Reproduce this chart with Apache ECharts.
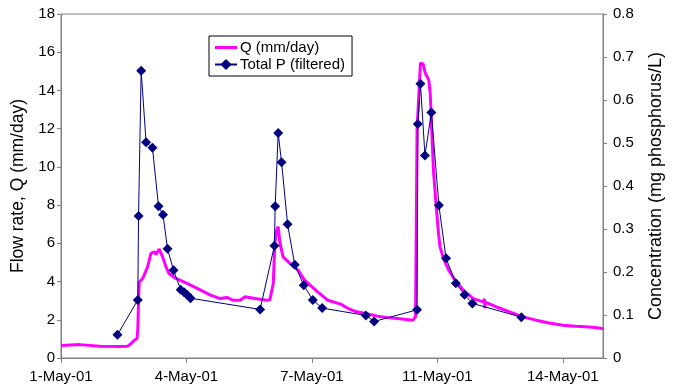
<!DOCTYPE html>
<html>
<head>
<meta charset="utf-8">
<script src="https://cdn.jsdelivr.net/npm/echarts@6/dist/echarts.min.js"></script>
<style>
html,body{margin:0;padding:0;background:#fff;}
#chart{width:673px;height:389px;}
</style>
</head>
<body>
<div id="chart"></div>
<script>
// Days since 1-May-01 00:00
const qDays = [0.00,0.50,1.03,1.55,1.77,1.86,1.95,2.02,2.04,2.07,2.08,2.17,2.30,2.39,2.48,2.52,2.61,2.70,2.79,2.87,3.05,3.35,3.71,3.97,4.23,4.41,4.58,4.76,4.89,5.16,5.46,5.55,5.64,5.68,5.73,5.77,5.82,5.90,6.08,6.30,6.47,6.82,7.09,7.43,7.62,7.80,8.09,8.41,8.75,9.12,9.35,9.42,9.46,9.50,9.55,9.62,9.68,9.77,9.81,9.86,9.90,9.97,10.03,10.07,10.16,10.30,10.47,10.69,10.95,11.22,11.25,11.26,11.27,11.57,11.92,12.27,12.62,12.97,13.33,13.68,14.03,14.18,14.38,14.40];
const qValues = [0.65,0.70,0.62,0.60,0.62,0.75,0.93,1.02,1.50,3.60,3.98,4.16,4.77,5.47,5.56,5.42,5.70,5.29,4.77,4.42,4.16,3.90,3.55,3.29,3.11,3.17,3.02,3.02,3.20,3.11,3.02,3.05,3.90,6.00,6.69,6.87,6.00,5.29,4.95,4.60,4.07,3.46,3.02,2.82,2.60,2.45,2.33,2.19,2.10,2.03,1.98,2.15,12.0,13.5,15.43,15.39,14.90,14.55,13.86,11.41,9.66,7.91,6.52,5.82,5.21,4.60,4.07,3.55,3.11,2.94,3.10,2.60,2.92,2.67,2.41,2.15,1.98,1.83,1.71,1.66,1.62,1.60,1.54,1.49];
const pDays = [1.50,2.04,2.06,2.13,2.26,2.43,2.59,2.71,2.83,2.99,3.18,3.27,3.35,3.44,5.29,5.67,5.69,5.77,5.86,6.02,6.21,6.45,6.69,6.94,8.10,8.32,9.46,9.48,9.55,9.67,9.84,10.04,10.23,10.49,10.72,10.93,12.23];
const pValues = [0.054,0.135,0.330,0.668,0.502,0.489,0.353,0.333,0.254,0.204,0.159,0.153,0.147,0.139,0.113,0.261,0.353,0.523,0.455,0.311,0.217,0.169,0.135,0.116,0.099,0.085,0.112,0.544,0.638,0.471,0.571,0.355,0.232,0.174,0.147,0.127,0.095];
const monthLabel = '-May-01';

const FONT = 'Liberation Sans, Arial, sans-serif';
const chart = echarts.init(document.getElementById('chart'), null, {renderer:'canvas'});
chart.setOption({
  animation:false,
  backgroundColor:'#fff',
  textStyle:{fontFamily:FONT},
  grid:{left:61,right:65,top:14,bottom:31,show:true,borderColor:'#808080',borderWidth:1,backgroundColor:'transparent'},
  legend:{
    orient:'vertical', left:209, top:36,
    backgroundColor:'#fff', borderColor:'#000', borderWidth:1,
    padding:[4,7,4,5], itemGap:2, itemWidth:22, itemHeight:14,
    textStyle:{fontFamily:FONT,fontSize:15,color:'#000',padding:[0,0,0,-2]},
    data:[{name:'Q (mm/day)',icon:'path://M0,0H22V3H0Z'},{name:'Total P (filtered)'}]
  },
  xAxis:{
    type:'value', min:0, max:14.4, interval:10/3,
    axisLine:{show:true,lineStyle:{color:'#808080',width:1}},
    axisTick:{show:true,inside:false,length:5,lineStyle:{color:'#808080'}},
    axisLabel:{showMaxLabel:false,margin:11,fontSize:15,color:'#000',fontFamily:FONT,
      formatter:v=>(Math.floor(v+1e-6)+1)+monthLabel},
    splitLine:{show:false}
  },
  yAxis:[{
    type:'value', min:0, max:18, interval:2, position:'left',
    name:'Flow rate, Q (mm/day)', nameLocation:'middle', nameGap:30, nameRotate:90,
    nameTextStyle:{fontSize:17.5,color:'#000',fontFamily:FONT},
    axisLine:{show:true,lineStyle:{color:'#808080'}},
    axisTick:{show:true,length:4,lineStyle:{color:'#808080'}},
    axisLabel:{fontSize:15,color:'#000',margin:6,fontFamily:FONT},
    splitLine:{show:false}
  },{
    type:'value', min:0, max:0.8, interval:0.1, position:'right',
    name:'Concentration (mg phosphorus/L)', nameLocation:'middle', nameGap:44, nameRotate:90,
    nameTextStyle:{fontSize:18,color:'#000',fontFamily:FONT},
    axisLine:{show:true,lineStyle:{color:'#808080'}},
    axisTick:{show:true,length:4,lineStyle:{color:'#808080'}},
    axisLabel:{fontSize:15,color:'#000',margin:10,fontFamily:FONT,
      formatter:v=>(Math.round(v*10)/10).toString()},
    splitLine:{show:false}
  }],
  series:[{
    name:'Q (mm/day)', type:'line', yAxisIndex:0,
    data:qDays.map((d,i)=>[d,qValues[i]]),
    symbol:'none', lineStyle:{color:'#FF00FF',width:3}, itemStyle:{color:'#FF00FF'},
    z:2
  },{
    name:'Total P (filtered)', type:'line', yAxisIndex:1,
    data:pDays.map((d,i)=>[d,pValues[i]]),
    symbol:'diamond', symbolSize:10, showSymbol:true,
    lineStyle:{color:'#000080',width:1}, itemStyle:{color:'#000080'},
    z:3
  }]
});
</script>
</body>
</html>
